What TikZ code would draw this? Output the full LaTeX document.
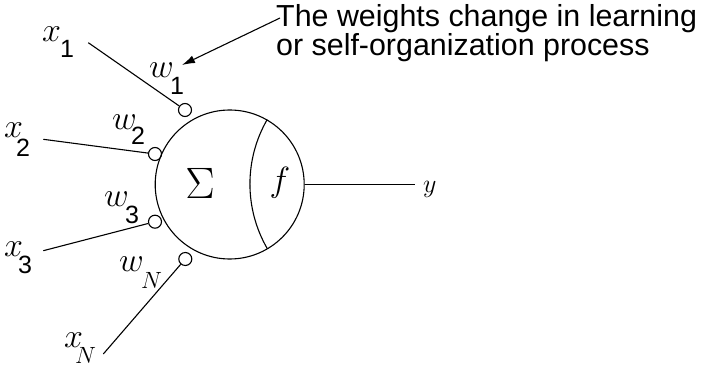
\documentclass[tikz,border=0pt]{standalone}
\usepackage{graphicx}
\usepackage{fontspec}
\setmainfont{Liberation Sans}
\usetikzlibrary{arrows.meta}
\newcommand\mscale[2]{\scalebox{#1}{\fontsize{17.28}{20}\selectfont$#2$}}
\begin{document}
\begin{tikzpicture}[x=1pt,y=-1pt,
  ln/.style={line width=1.1pt},
  wcirc/.style={circle,draw,line width=1.1pt,minimum size=13pt,inner sep=0pt},
  base/.style={inner sep=0pt,anchor=base west},
  subs/.style={inner sep=0pt,anchor=base west,font=\fontsize{25}{25}\selectfont}]
\useasboundingbox (0,0) rectangle (704,374);
% main neuron
\node[circle,draw,line width=1.1pt,minimum size=149pt,inner sep=0pt] (sum) at (229.7,184.5) {};
\draw[ln] (sum.60) arc[start angle=150,end angle=210,radius=129pt];
\node[inner sep=0pt] (sig) at (200,183) {\mscale{2.546}{\Sigma}};
\node[inner sep=0pt] (f) at (280,183) {\mscale{2.025}{f}};
% output
\coordinate (yend) at (415,184.5);
\draw[ln] (sum.east) -- (yend);
\node[base] (y) at (423,193) {\mscale{1.5}{y}};
% weight circles
\node[wcirc] (c1) at (185,110) {};
\node[wcirc] (c2) at (155,154) {};
\node[wcirc] (c3) at (155,221.7) {};
\node[wcirc] (cN) at (185.3,259) {};
% input lines
\coordinate (s1) at (88.3,42.7);
\coordinate (s2) at (43.3,139.3);
\coordinate (s3) at (43.3,250.7);
\coordinate (sN) at (103.3,354);
\draw[ln] (s1) -- (c1);
\draw[ln] (s2) -- (c2);
\draw[ln] (s3) -- (c3);
\draw[ln] (sN) -- (cN);
% input labels
\node[base] (x1) at (42,42) {\mscale{1.968}{x}};
\node[subs] (x1s) at (60,58) {1};
\node[base] (x2) at (4,138) {\mscale{1.968}{x}};
\node[subs] (x2s) at (16,157) {2};
\node[base] (x3) at (4,256.7) {\mscale{1.968}{x}};
\node[subs] (x3s) at (18,273) {3};
\node[base] (xN) at (64,347) {\mscale{1.968}{x}};
\node[base] (xNs) at (75,363) {\mscale{1.36}{N}};
% weight labels
\node[base] (w1) at (149,78) {\mscale{1.968}{w}};
\node[subs] (w1s) at (170,95) {1};
\node[base] (w2) at (112,130) {\mscale{1.968}{w}};
\node[subs] (w2s) at (131,145) {2};
\node[base] (w3) at (104,206.7) {\mscale{1.968}{w}};
\node[subs] (w3s) at (125,223) {3};
\node[base] (wN) at (119,271.7) {\mscale{1.968}{w}};
\node[base] (wNs) at (141,288) {\mscale{1.36}{N}};
% annotation
\node[inner sep=0pt,anchor=base west,align=left,
  font=\fontsize{30.4}{29.5}\selectfont] (note) at (276,56)
  {The weights change in learning\\or self-organization process};
\coordinate (astart) at (280,18);
\coordinate (atip) at (182,65);
\draw[ln,-{Latex[length=13pt,width=8pt]}] (astart) -- (atip);
\end{tikzpicture}
\end{document}
